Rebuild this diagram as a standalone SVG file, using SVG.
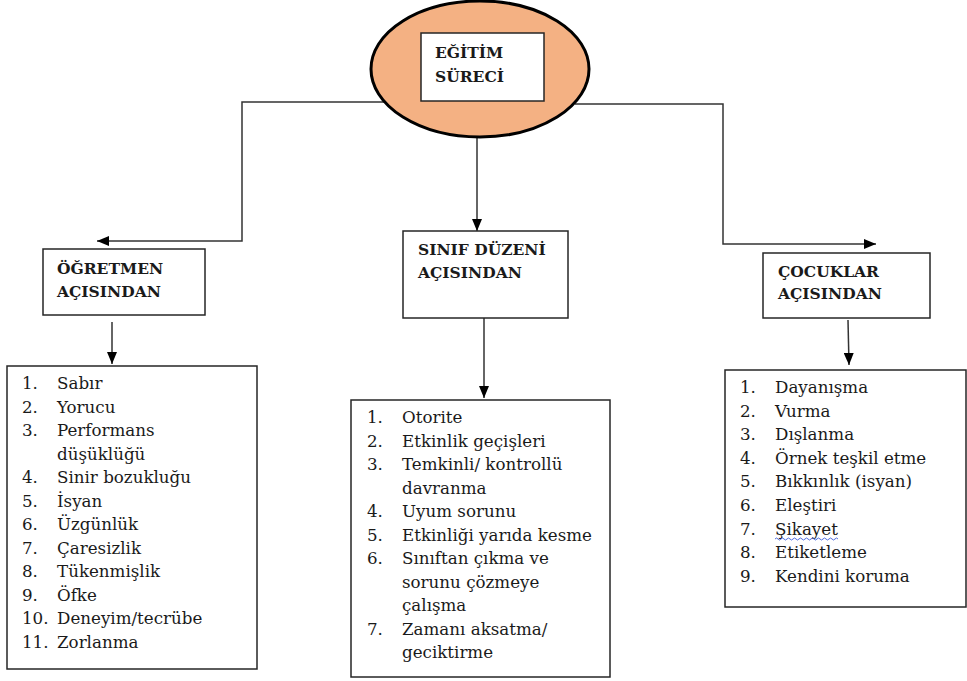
<svg xmlns="http://www.w3.org/2000/svg" width="967" height="681" viewBox="0 0 967 681">
<style>
  .box { fill: #ffffff; stroke: #262626; stroke-width: 1.5; }
  .hdr { font-family: "DejaVu Serif", "Liberation Serif", serif; font-weight: bold; font-size: 15.5px; fill: #1a1a1a; }
  .itm { font-family: "DejaVu Serif", "Liberation Serif", serif; font-size: 16.7px; fill: #1a1a1a; }
  .con { fill: none; stroke: #333333; stroke-width: 1.5; }
</style>
<defs>
  <marker id="arr" markerUnits="userSpaceOnUse" markerWidth="12" markerHeight="10" viewBox="0 0 12 10" refX="12" refY="5" orient="auto">
    <path d="M0,0 L12,5 L0,10 Z" fill="#000000"/>
  </marker>
</defs>
<rect width="967" height="681" fill="#ffffff"/>

<g id="connectors">
  <path class="con" d="M384,102 H242 V241 H97" marker-end="url(#arr)"/>
  <path class="con" d="M575,104 H723 V244 H876" marker-end="url(#arr)"/>
  <path class="con" d="M477,137 V231" marker-end="url(#arr)"/>
  <path class="con" d="M112,322 V364" marker-end="url(#arr)"/>
  <path class="con" d="M484,318 V398" marker-end="url(#arr)"/>
  <path class="con" d="M848,320 L849,365" marker-end="url(#arr)"/>
</g>

<g id="egitim-sureci">
  <ellipse cx="480" cy="69" rx="109" ry="68" fill="#F4B183" stroke="#000000" stroke-width="3"/>
  <rect class="box" x="421" y="33" width="123" height="68"/>
  <text class="hdr" x="435" y="58">EĞİTİM</text>
  <text class="hdr" x="435" y="82">SÜRECİ</text>
</g>

<g id="ogretmen">
  <rect class="box" x="43" y="249" width="162" height="66"/>
  <text class="hdr" x="57" y="274">ÖĞRETMEN</text>
  <text class="hdr" x="57" y="297">AÇISINDAN</text>
</g>

<g id="sinif">
  <rect class="box" x="403" y="231" width="165" height="87"/>
  <text class="hdr" x="418" y="255">SINIF DÜZENİ</text>
  <text class="hdr" x="418" y="278">AÇISINDAN</text>
</g>

<g id="cocuklar">
  <rect class="box" x="763" y="253" width="167" height="65"/>
  <text class="hdr" x="778" y="277">ÇOCUKLAR</text>
  <text class="hdr" x="778" y="299">AÇISINDAN</text>
</g>

<g id="ogretmen-list">
  <rect class="box" x="7" y="366" width="250" height="303"/>
  <g class="itm">
    <text x="22" y="389">1.</text><text x="57" y="389">Sabır</text>
    <text x="22" y="412.5">2.</text><text x="57" y="412.5">Yorucu</text>
    <text x="22" y="436">3.</text><text x="57" y="436">Performans</text>
    <text x="57" y="459.5">düşüklüğü</text>
    <text x="22" y="483">4.</text><text x="57" y="483">Sinir bozukluğu</text>
    <text x="22" y="506.5">5.</text><text x="57" y="506.5">İsyan</text>
    <text x="22" y="530">6.</text><text x="57" y="530">Üzgünlük</text>
    <text x="22" y="553.5">7.</text><text x="57" y="553.5">Çaresizlik</text>
    <text x="22" y="577">8.</text><text x="57" y="577">Tükenmişlik</text>
    <text x="22" y="600.5">9.</text><text x="57" y="600.5">Öfke</text>
    <text x="22" y="624">10.</text><text x="57" y="624">Deneyim/tecrübe</text>
    <text x="22" y="647.5">11.</text><text x="57" y="647.5">Zorlanma</text>
  </g>
</g>

<g id="sinif-list">
  <rect class="box" x="351" y="400" width="259" height="277"/>
  <g class="itm">
    <text x="367" y="423">1.</text><text x="402" y="423">Otorite</text>
    <text x="367" y="446.5">2.</text><text x="402" y="446.5">Etkinlik geçişleri</text>
    <text x="367" y="470">3.</text><text x="402" y="470">Temkinli/ kontrollü</text>
    <text x="402" y="493.5">davranma</text>
    <text x="367" y="517">4.</text><text x="402" y="517">Uyum sorunu</text>
    <text x="367" y="540.5">5.</text><text x="402" y="540.5">Etkinliği yarıda kesme</text>
    <text x="367" y="564">6.</text><text x="402" y="564">Sınıftan çıkma ve</text>
    <text x="402" y="587.5">sorunu çözmeye</text>
    <text x="402" y="611">çalışma</text>
    <text x="367" y="634.5">7.</text><text x="402" y="634.5">Zamanı aksatma/</text>
    <text x="402" y="658">geciktirme</text>
  </g>
</g>

<g id="cocuklar-list">
  <rect class="box" x="725" y="370" width="241" height="237"/>
  <g class="itm">
    <text x="740" y="393">1.</text><text x="775" y="393">Dayanışma</text>
    <text x="740" y="416.6">2.</text><text x="775" y="416.6">Vurma</text>
    <text x="740" y="440.2">3.</text><text x="775" y="440.2">Dışlanma</text>
    <text x="740" y="463.8">4.</text><text x="775" y="463.8">Örnek teşkil etme</text>
    <text x="740" y="487.4">5.</text><text x="775" y="487.4">Bıkkınlık (isyan)</text>
    <text x="740" y="511">6.</text><text x="775" y="511">Eleştiri</text>
    <text x="740" y="534.6">7.</text><text x="775" y="534.6">Şikayet</text>
    <text x="740" y="558.2">8.</text><text x="775" y="558.2">Etiketleme</text>
    <text x="740" y="581.8">9.</text><text x="775" y="581.8">Kendini koruma</text>
  </g>
  <path d="M775,539 q1.5,-2 3,0 t3,0 t3,0 t3,0 t3,0 t3,0 t3,0 t3,0 t3,0 t3,0 t3,0 t3,0 t3,0 t3,0 t3,0 t3,0 t3,0 t3,0 t3,0 t3,0 t3,0" fill="none" stroke="#3b5bdb" stroke-width="0.9"/>
</g>
</svg>
